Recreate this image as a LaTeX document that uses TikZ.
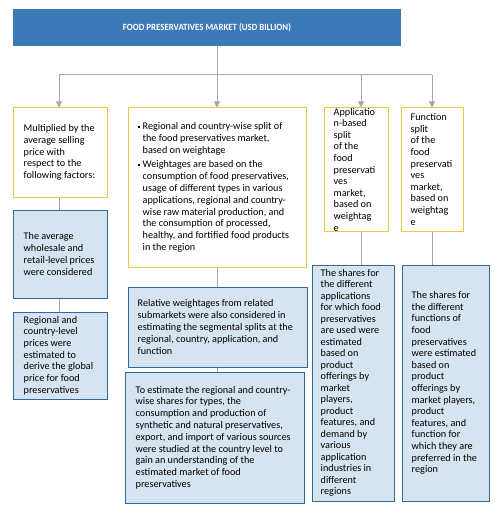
\documentclass[tikz,border=0pt]{standalone}
\usepackage{graphicx}
\usepackage{fontspec}
\setmainfont{Carlito}
\usetikzlibrary{arrows.meta}
\definecolor{topblue}{HTML}{3C79B7}
\definecolor{ybord}{HTML}{F0C83C}
\definecolor{bbord}{HTML}{2E6AA0}
\definecolor{bfill}{HTML}{D6E4F1}
\definecolor{conn}{HTML}{A8A8A8}
\newcommand\sqbul{\makebox[5pt][l]{\rule[1.8pt]{2.4pt}{2.4pt}}}
\newcommand\ind{\hspace*{5pt}}
\begin{document}
\begin{tikzpicture}[x=1pt,y=-1pt,
  ybox/.style={draw=ybord, line width=1pt, fill=white, inner sep=0pt},
  bbox/.style={draw=bbord, line width=1pt, fill=bfill, inner sep=0pt},
  txt/.style={inner sep=0pt, anchor=west, align=left, font=\fontsize{10.2}{11.8}\selectfont},
  link/.style={draw=conn, line width=1pt},
  arr/.style={link, -{Triangle[width=6pt,length=6pt]}},
]
\useasboundingbox[fill=white] (0,0) rectangle (496,508);

% boxes
\node[fill=topblue, inner sep=0pt, minimum width=388pt, minimum height=37pt] (top) at (207,27.5) {};
\node[ybox, minimum width=94pt, minimum height=89pt] (b1) at (60,152.5) {};
\node[ybox, minimum width=178pt, minimum height=159pt] (b2) at (217,187.5) {};
\node[ybox, minimum width=64pt, minimum height=123pt] (app) at (356,169.5) {};
\node[ybox, minimum width=62pt, minimum height=123pt] (fn) at (432,169.5) {};
\node[bbox, minimum width=94pt, minimum height=88pt] (c1) at (60,254) {};
\node[bbox, minimum width=94pt, minimum height=87pt] (c2) at (60,355.5) {};
\node[bbox, minimum width=179pt, minimum height=80pt] (rel) at (217.5,327) {};
\node[bbox, minimum width=179pt, minimum height=131pt] (est) at (214.5,437.5) {};
\node[bbox, minimum width=82pt, minimum height=236pt] (appb) at (353,383) {};
\node[bbox, minimum width=87pt, minimum height=236pt] (fnb) at (445.5,383) {};

% connectors
\coordinate (j) at (217,75);
\coordinate (jl) at (59,75);
\coordinate (ja) at (361,75);
\coordinate (jr) at (432,75);
\draw[link] (top.south -| j) -- (j);
\draw[link] (jl) -- (jr);
\draw[arr] (jl) -- (jl |- b1.north);
\draw[arr] (j) -- (j |- b2.north);
\draw[arr] (ja) -- (ja |- app.north);
\draw[arr] (jr) -- (jr |- fn.north);
\draw[link] (b1.south -| jl) -- (jl |- c1.north);
\draw[link] (c1.south -| jl) -- (jl |- c2.north);
\draw[link] (b2.south -| j) -- (j |- rel.north);
\draw[link] (rel.south -| j) -- (j |- est.north);
\draw[link] (app.south -| ja) -- (ja |- appb.north);
\draw[link] (fn.south -| jr) -- (jr |- fnb.north);

% texts
\node[text=white, inner sep=0pt] (tt) at (top.center)
  {\resizebox{168pt}{\height}{\fontsize{9.5}{10}\selectfont\bfseries FOOD PRESERVATIVES MARKET (USD BILLION)}};
\node[txt] (t1) at ([xshift=11pt]b1.west) {Multiplied by the\\average selling\\price with\\respect to the\\following factors:};
\node[txt] (t2) at ([xshift=10pt]b2.west) {\sqbul Regional and country-wise split of\\\ind the food preservatives market,\\\ind based on weightage\\[2.8pt]\sqbul Weightages are based on the\\\ind consumption of food preservatives,\\\ind usage of different types in various\\\ind applications, regional and country-\\\ind wise raw material production, and\\\ind the consumption of processed,\\\ind healthy, and fortified food products\\\ind in the region};
\node[txt, font=\fontsize{10.2}{11.6}\selectfont] (t3) at ([xshift=10pt]app.west) {Applicatio\\n-based\\split\\of the\\food\\preservati\\ves\\market,\\based on\\weightag\\e};
\node[txt, font=\fontsize{10.2}{11.6}\selectfont] (t4) at ([xshift=10pt]fn.west) {Function\\split\\of the\\food\\preservati\\ves\\market,\\based on\\weightag\\e};
\node[txt] (t5) at ([xshift=11pt]c1.west) {The average\\wholesale and\\retail-level prices\\were considered};
\node[txt, font=\fontsize{10.2}{11.7}\selectfont] (t6) at ([xshift=11pt]c2.west) {Regional and\\country-level\\prices were\\estimated to\\derive the global\\price for food\\preservatives};
\node[txt] (t7) at ([xshift=10pt]rel.west) {Relative weightages from related\\submarkets were also considered in\\estimating the segmental splits at the\\regional, country, application, and\\function};
\node[txt] (t8) at ([xshift=11pt]est.west) {To estimate the regional and country-\\wise shares for types, the\\consumption and production of\\synthetic and natural preservatives,\\export, and import of various sources\\were studied at the country level to\\gain an understanding of the\\estimated market of food\\preservatives};
\node[txt, font=\fontsize{10.2}{11.5}\selectfont] (t9) at ([xshift=9pt]appb.west) {The shares for\\the different\\applications\\for which food\\preservatives\\are used were\\estimated\\based on\\product\\offerings by\\market\\players,\\product\\features, and\\demand by\\various\\application\\industries in\\different\\regions};
\node[txt, font=\fontsize{10.2}{11.6}\selectfont] (t10) at ([xshift=10pt]fnb.west) {The shares for\\the different\\functions of\\food\\preservatives\\were estimated\\based on\\product\\offerings by\\market players,\\product\\features, and\\function for\\which they are\\preferred in the\\region};
\end{tikzpicture}
\end{document}
